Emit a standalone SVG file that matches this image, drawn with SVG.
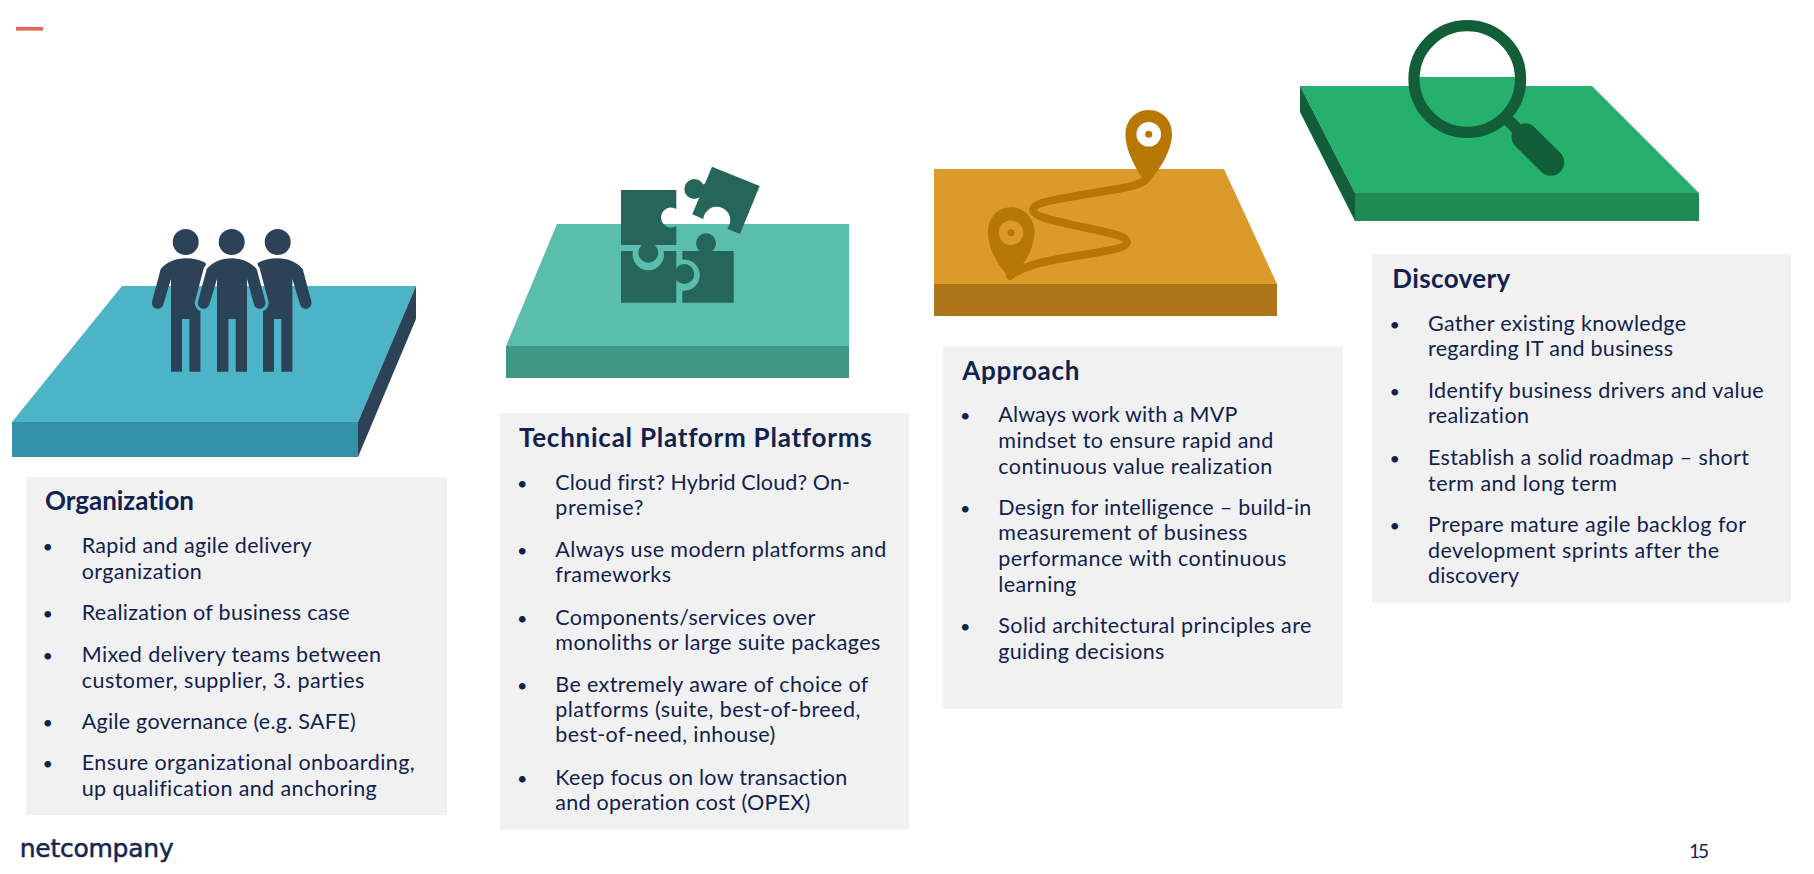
<svg xmlns="http://www.w3.org/2000/svg" width="1814" height="874" viewBox="0 0 1814 874">
<style>
text{font-family:"Lato","Open Sans","Liberation Sans",sans-serif;fill:#12224f;font-variant-ligatures:none}
.t{font-size:26px;font-weight:700}
.b{font-size:21.5px}
.u{font-size:18px;text-anchor:middle}
.box{fill:#f1f1f1}
.teal{fill:#26665a}
.navy{fill:#2c4257}
.amber{fill:#b67705}
</style>
<defs>
<path id="p-c" d="M0 258.3C10 258.3 19 262 25 269L33.5 301A5.7 5.7 0 0 1 22.5 305L15.3 279V371.7H4V319H-3.3V371.7H-14.7V279L-22.5 305A5.7 5.7 0 0 1 -33.5 301L-25 269C-19 262-10 258.3 0 258.3Z"/>
<path id="p-s" d="M0 258.3C8 258.3 15 260 20 263V300L14.7 312V371.7H3.7V319H-3.7V371.7H-14.7V279L-22.5 305A5.7 5.7 0 0 1 -33.5 301L-25 269C-19 262-10 258.3 0 258.3Z"/>
<mask id="halo" maskUnits="userSpaceOnUse" x="120" y="220" width="220" height="170">
<rect x="120" y="220" width="220" height="170" fill="#fff"/>
<use href="#p-c" x="231.7" fill="#000" stroke="#000" stroke-width="6"/>
</mask>
<clipPath id="lens"><circle cx="1467.3" cy="79" r="48"/></clipPath>
</defs>

<rect id="accent" x="16" y="27" width="27" height="3.6" fill="#e8655a"/>

<g id="organization">
<polygon points="122,286 416,286 358,422 12,422" fill="#4db3c7"/>
<rect x="12" y="422" width="346" height="35" fill="#3491a7"/>
<polygon points="358,422 416,286 416,319 358,457" fill="#2c4257"/>
<g class="navy">
<circle cx="185.7" cy="242" r="13"/><circle cx="231.7" cy="242" r="13"/><circle cx="277.7" cy="242" r="13"/>
<g mask="url(#halo)">
<use href="#p-s" x="185.7"/>
<use href="#p-s" transform="translate(277.7 0) scale(-1 1)"/>
</g>
<use href="#p-c" x="231.7"/>
</g>
<rect class="box" x="26" y="477" width="421" height="338"/>
<text class="t" x="45" y="509.8" textLength="149">Organization</text>
<text class="u" x="47.7" y="552.8">•</text><text class="b" x="81.7" y="552.8" textLength="230">Rapid and agile delivery</text>
<text class="b" x="81.7" y="578.8" textLength="120">organization</text>
<text class="u" x="47.7" y="619.5">•</text><text class="b" x="81.7" y="619.5" textLength="268">Realization of business case</text>
<text class="u" x="47.7" y="661.5">•</text><text class="b" x="81.7" y="661.5" textLength="299.3">Mixed delivery teams between</text>
<text class="b" x="81.7" y="687.5" textLength="282.7">customer, supplier, 3. parties</text>
<text class="u" x="47.7" y="728.5">•</text><text class="b" x="81.7" y="728.5" textLength="274">Agile governance (e.g. SAFE)</text>
<text class="u" x="47.7" y="770.2">•</text><text class="b" x="81.7" y="770.2" textLength="333">Ensure organizational onboarding,</text>
<text class="b" x="81.7" y="795.8" textLength="295">up qualification and anchoring</text>
</g>

<g id="technical-platform">
<polygon points="557,224 849,224 849,346 506,346" fill="#5bbdab"/>
<rect x="506" y="346" width="343" height="32" fill="#3f9784"/>
<g class="teal">
<path d="M621 190H676.3V209A10 10 0 1 0 676.3 226V245H621Z"/>
<circle cx="648.3" cy="252.7" r="10"/>
<path d="M621 251H633A15.7 15.7 0 1 0 663.6 251H676.3V302.7H621Z"/>
<circle cx="684.3" cy="274" r="10"/>
<path d="M682.3 251H733.7V302.7H682.3V290.7A15.7 15.7 0 1 0 682.3 259.5Z"/>
<circle cx="706" cy="243.3" r="10"/>
<path d="M712 166.7L759.7 186L740 234L727.3 228.7A13.5 13.5 0 1 0 703.3 219L692.3 214.3Z"/>
<circle cx="694.3" cy="189" r="10"/>
<path d="M694 189L712 180L706 200Z"/>
</g>
<rect class="box" x="500" y="413" width="409" height="416.7"/>
<text class="t" x="519" y="446.8" textLength="352.7">Technical Platform Platforms</text>
<text class="u" x="522.2" y="489.5">•</text><text class="b" x="555.3" y="489.5" textLength="294.7">Cloud first? Hybrid Cloud? On-</text>
<text class="b" x="555.3" y="514.5" textLength="88">premise?</text>
<text class="u" x="522.2" y="556.5">•</text><text class="b" x="555.3" y="556.5" textLength="331">Always use modern platforms and</text>
<text class="b" x="555.3" y="582.2" textLength="115.7">frameworks</text>
<text class="u" x="522.2" y="624.5">•</text><text class="b" x="555.3" y="624.5" textLength="260">Components/services over</text>
<text class="b" x="555.3" y="649.5" textLength="325">monoliths or large suite packages</text>
<text class="u" x="522.2" y="691.8">•</text><text class="b" x="555.3" y="691.8" textLength="313">Be extremely aware of choice of</text>
<text class="b" x="555.3" y="716.5" textLength="305">platforms (suite, best-of-breed,</text>
<text class="b" x="555.3" y="742.2" textLength="220">best-of-need, inhouse)</text>
<text class="u" x="522.2" y="784.5">•</text><text class="b" x="555.3" y="784.5" textLength="292">Keep focus on low transaction</text>
<text class="b" x="555.3" y="809.5" textLength="255">and operation cost (OPEX)</text>
</g>

<g id="approach">
<polygon points="934,169 1224,169 1277,284 934,284" fill="#dc9a2a"/>
<rect x="934" y="284" width="343" height="32" fill="#ad7519"/>
<path d="M1147 178C1140 186 1130 187 1087 194C1060 199 1033 202 1033 210C1033 218 1062 222 1087 228C1110 233 1127 236 1127 242C1127 249 1100 252 1070 257C1045 261 1025 265 1010 276" fill="none" stroke="#b67705" stroke-width="8" stroke-linecap="round"/>
<path class="amber" d="M1148.7 110C1163 110 1172 121 1172 134C1172 150 1160 170 1147 184C1137 172 1125 150 1125.5 134C1125.5 121 1135 110 1148.7 110Z"/>
<circle cx="1148.7" cy="134.3" r="12.3" fill="#fff"/><circle class="amber" cx="1148.7" cy="134.3" r="3.5"/>
<path class="amber" d="M1011 207.3C1025 207.3 1034.5 219 1034.5 232C1034.5 250 1022 268 1010.7 279C1000 268 987.5 250 988 232C988 219 997 207.3 1011 207.3Z"/>
<circle cx="1011" cy="232.7" r="12.3" fill="#dc9a2a"/><circle class="amber" cx="1011" cy="232.7" r="3.5"/>
<rect class="box" x="943" y="346" width="399.7" height="363"/>
<text class="t" x="962.3" y="379.8" textLength="117">Approach</text>
<text class="u" x="965.2" y="421.8">•</text><text class="b" x="998.3" y="421.8" textLength="239">Always work with a MVP</text>
<text class="b" x="998.3" y="447.5" textLength="275">mindset to ensure rapid and</text>
<text class="b" x="998.3" y="473.5" textLength="274">continuous value realization</text>
<text class="u" x="965.2" y="514.5">•</text><text class="b" x="998.3" y="514.5" textLength="313">Design for intelligence – build-in</text>
<text class="b" x="998.3" y="540.2" textLength="249">measurement of business</text>
<text class="b" x="998.3" y="566.2" textLength="288">performance with continuous</text>
<text class="b" x="998.3" y="591.5" textLength="78">learning</text>
<text class="u" x="965.2" y="633.2">•</text><text class="b" x="998.3" y="633.2" textLength="313">Solid architectural principles are</text>
<text class="b" x="998.3" y="659.2" textLength="166">guiding decisions</text>
</g>

<g id="discovery">
<polygon points="1300,86 1592,86 1699,193 1355,193" fill="#25b16d"/>
<rect x="1355" y="193" width="344" height="28" fill="#1e8a54"/>
<polygon points="1300,86 1355,193 1355,221 1300,112" fill="#115e38"/>
<rect x="1410" y="77" width="115" height="60" fill="#25b16d" clip-path="url(#lens)"/>
<g fill="none" stroke="#115e38">
<circle cx="1467.3" cy="79" r="53.3" stroke-width="11.3"/>
<path d="M1505 117L1530 142" stroke-width="12"/>
<path d="M1525 136.7L1550.7 162.3" stroke-width="27" stroke-linecap="round"/>
</g>
<rect class="box" x="1372" y="254" width="419" height="348.7"/>
<text class="t" x="1392.3" y="287.8" textLength="118">Discovery</text>
<text class="u" x="1394.7" y="330.5">•</text><text class="b" x="1428" y="330.5" textLength="258">Gather existing knowledge</text>
<text class="b" x="1428" y="355.8" textLength="245">regarding IT and business</text>
<text class="u" x="1394.7" y="397.5">•</text><text class="b" x="1428" y="397.5" textLength="335.7">Identify business drivers and value</text>
<text class="b" x="1428" y="422.5" textLength="101">realization</text>
<text class="u" x="1394.7" y="464.5">•</text><text class="b" x="1428" y="464.5" textLength="321">Establish a solid roadmap – short</text>
<text class="b" x="1428" y="490.5" textLength="189">term and long term</text>
<text class="u" x="1394.7" y="531.8">•</text><text class="b" x="1428" y="531.8" textLength="318">Prepare mature agile backlog for</text>
<text class="b" x="1428" y="557.8" textLength="291">development sprints after the</text>
<text class="b" x="1428" y="583.2" textLength="91">discovery</text>
</g>

<g id="footer">
<text x="19.7" y="857" textLength="154" style="font-family:'DejaVu Sans','Liberation Sans',sans-serif;font-size:25px;fill:#14264f;stroke:#14264f;stroke-width:.5">netcompany</text>
<text x="1689" y="858" textLength="20" style="font-size:19px">15</text>
</g>
</svg>
